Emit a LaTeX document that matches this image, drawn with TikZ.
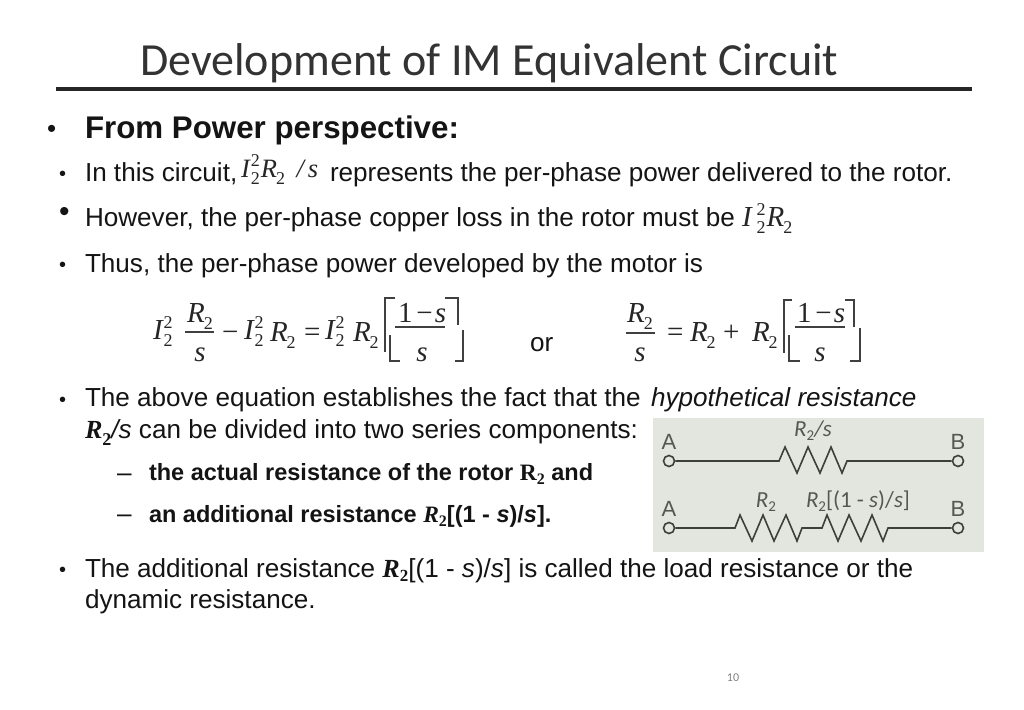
\documentclass[tikz,border=0pt]{standalone}
\usepackage{fontspec}
\setmainfont{Liberation Sans}
\newfontfamily\tms{Liberation Serif}
\newfontfamily\crl{Carlito}
\definecolor{panel}{HTML}{E3E6DE}
\definecolor{wire}{HTML}{3C3F3A}
\definecolor{lab}{HTML}{55584F}
\newcommand{\bodyf}{\fontsize{26.1}{30}\selectfont}
\newcommand{\mth}{\tms\fontsize{29}{32}\selectfont\itshape}
\newcommand{\nsub}[1]{\raisebox{-7pt}{\fontsize{18}{20}\selectfont\upshape #1}}
\newcommand{\nsup}[1]{\raisebox{11pt}{\fontsize{18}{20}\selectfont\upshape #1}}
\newcommand{\Itwo}{I\kern1pt\rlap{\nsup{2}}\nsub{2}}
\newcommand{\Rtwo}{R\kern-1pt\nsub{2}}
\begin{document}
\begin{tikzpicture}[x=1pt,y=-1pt,
  txt/.style={anchor=base west,inner sep=0pt,outer sep=0pt,font=\bodyf,text=black!92},
  mat/.style={anchor=base west,inner sep=0pt,outer sep=0pt,font=\mth,text=black!85},
  matc/.style={anchor=base,inner sep=0pt,outer sep=0pt,font=\mth,text=black!85},
  brk/.style={draw=black!75,line width=1.1pt},
  term/.style={circle,draw=wire,line width=1.6pt,fill=panel,minimum size=11pt,inner sep=0pt},
  wirepath/.style={draw=wire,line width=1.6pt,line join=miter},
  clab/.style={anchor=base,inner sep=0pt,text=lab,font=\crl\fontsize{23}{26}\selectfont},
  endlab/.style={anchor=base,inner sep=0pt,text=lab,font=\fontsize{22}{26}\selectfont}]
\useasboundingbox (0,0) rectangle (1024,709);
\fill[white] (0,0) rectangle (1024,709);
% title
\node[anchor=base west,inner sep=0pt,font=\crl\fontsize{46}{50}\selectfont,text=black!80] (title) at (140,75) {Development of IM Equivalent Circuit};
\draw[line width=4pt,black!85] (56,89) -- (972,89);
% bullets and text
\node[txt,font=\fontsize{26}{30}\selectfont] (b0) at (47,137) {•};
\node[txt,font=\bfseries\fontsize{31.3}{34}\selectfont] (t0) at (85,138) {From Power perspective:};
\node[txt,font=\fontsize{20}{24}\selectfont] (b1) at (59,180) {•};
\node[txt] (t1) at (85,181) {In this circuit,};
\node[mat,font=\tms\fontsize{26.5}{30}\selectfont\itshape] (m1) at (241,177) {\Itwo\kern1pt\Rtwo\ \kern5pt/\kern4pt s};
\node[txt] (t1b) at (330,181) {represents the per-phase power delivered to the rotor.};
\node[txt,font=\fontsize{30}{30}\selectfont] (b2) at (59,221) {•};
\node[txt] (t2) at (85,226) {However, the per-phase copper loss in the rotor must be};
\node[mat] (m2) at (742,226) {I\kern5pt\rlap{\nsup{2}}\nsub{2}\kern1pt\Rtwo};
\node[txt,font=\fontsize{20}{24}\selectfont] (b3) at (59,271) {•};
\node[txt] (t3) at (85,272) {Thus, the per-phase power developed by the motor is};
% equation 1
\node[mat] (e1a) at (153,339) {\Itwo};
\node[matc] (e1b) at (200,322) {\Rtwo};
\draw[brk] (185,332) -- (214,332);
\node[matc] (e1c) at (200,361) {s};
\node[mat] (e1d) at (222,341) {\upshape −};
\node[mat] (e1e) at (244,339) {\Itwo};
\node[mat] (e1f) at (270,341) {\Rtwo};
\node[mat] (e1g) at (304,341) {\upshape =};
\node[mat] (e1h) at (325,339) {\Itwo};
\node[mat] (e1i) at (353,341) {\Rtwo};
\draw[brk] (395,298) -- (385,298) -- (385,352);
\draw[brk] (390,335) -- (390,361) -- (400,361);
\draw[brk] (445,298) -- (458,298) -- (458,325);
\draw[brk] (463,330) -- (463,361) -- (455,361);
\draw[brk] (395,327) -- (445,327);
\node[mat] (e1j) at (398,322) {\upshape 1\kern4pt −\kern2pt\itshape s};
\node[matc] (e1k) at (422,361) {s};
\node[txt] (or) at (530,351) {or};
% equation 2
\node[matc] (e2a) at (640,322) {\Rtwo};
\draw[brk] (626,333) -- (655,333);
\node[matc] (e2b) at (640,361) {s};
\node[mat] (e2c) at (667,341) {\upshape =};
\node[mat] (e2d) at (690,341) {\Rtwo};
\node[mat] (e2e) at (723,341) {\upshape +};
\node[mat] (e2f) at (752,341) {\Rtwo};
\draw[brk] (792,300) -- (784,300) -- (784,353);
\draw[brk] (789,335) -- (789,361) -- (800,361);
\draw[brk] (845,300) -- (854,300) -- (854,327);
\draw[brk] (860,328) -- (860,361) -- (850,361);
\draw[brk] (795,327) -- (845,327);
\node[mat] (e2g) at (797,322) {\upshape 1\kern4pt −\kern2pt\itshape s};
\node[matc] (e2h) at (820,361) {s};
% following text
\node[txt,font=\fontsize{20}{24}\selectfont] (b4) at (59,406) {•};
\node[txt] (t4) at (85,406) {The above equation establishes the fact that the};
\node[txt,font=\itshape\fontsize{26.1}{30}\selectfont] (t4b) at (651,406) {hypothetical resistance};
\node[txt] (t5) at (85,438) {{\tms\bfseries\itshape R\nsub{\bfseries 2}}{\itshape /s} can be divided into two series components:};
\node[txt] (d1) at (117,481) {–};
\node[txt,font=\bfseries\fontsize{23.5}{28}\selectfont] (t6) at (149,480) {the actual resistance of the rotor {\tms R\raisebox{-4pt}{\fontsize{16}{18}\selectfont 2}} and};
\node[txt] (d2) at (117,522) {–};
\node[txt,font=\bfseries\fontsize{23.5}{28}\selectfont] (t7) at (149,522) {an additional resistance {\tms\itshape R\raisebox{-4pt}{\upshape\fontsize{16}{18}\selectfont 2}}[(1 - {\itshape s})/{\itshape s}].};
\node[txt,font=\fontsize{20}{24}\selectfont] (b5) at (59,576) {•};
\node[txt] (t8) at (85,577) {The additional resistance {\tms\bfseries\itshape R\raisebox{-4pt}{\fontsize{17}{18}\selectfont\upshape 2}}[(1 - {\itshape s})/{\itshape s}] is called the load resistance or the};
\node[txt] (t9) at (85,608) {dynamic resistance.};
\node[anchor=base,inner sep=0pt,font=\crl\fontsize{12}{14}\selectfont,text=black!50] (pg) at (733,681) {10};
% circuit
\fill[panel] (653,418) rectangle (984,552);
\node[term] (a1) at (669,461) {};
\node[term] (b1t) at (958,461) {};
\node[term] (a2) at (669,528) {};
\node[term] (b2t) at (958,528) {};
\node[endlab] (la1) at (669,449) {A};
\node[endlab] (lb1) at (958,449) {B};
\node[endlab] (la2) at (669,516) {A};
\node[endlab] (lb2) at (958,516) {B};
\coordinate (r1s) at (779,461);
\coordinate (r1e) at (847,461);
\coordinate (r2s) at (735,528);
\coordinate (r2e) at (802,528);
\coordinate (r3s) at (822,528);
\coordinate (r3e) at (888,528);
\draw[wirepath] (a1) -- (r1s) -- (785,447) -- (797,473) -- (808,447) -- (820,473) -- (831,447) -- (842,473) -- (r1e) -- (b1t);
\draw[wirepath] (a2) -- (r2s) -- (740,515) -- (752,541) -- (763,515) -- (774,541) -- (786,515) -- (797,541) -- (r2e) -- (r3s) -- (827,515) -- (838,541) -- (849,515) -- (861,541) -- (872,515) -- (883,541) -- (r3e) -- (b2t);
\node[clab] (c1) at (813,436) {\itshape R\raisebox{-4pt}{\upshape\fontsize{15}{16}\selectfont 2}/s};
\node[clab] (c2) at (766,507) {\itshape R\raisebox{-4pt}{\upshape\fontsize{15}{16}\selectfont 2}};
\node[clab] (c3) at (858,507) {\itshape R\raisebox{-4pt}{\upshape\fontsize{15}{16}\selectfont 2}\upshape[(1 - \itshape s\upshape)/\itshape s\upshape]};
\end{tikzpicture}
\end{document}
